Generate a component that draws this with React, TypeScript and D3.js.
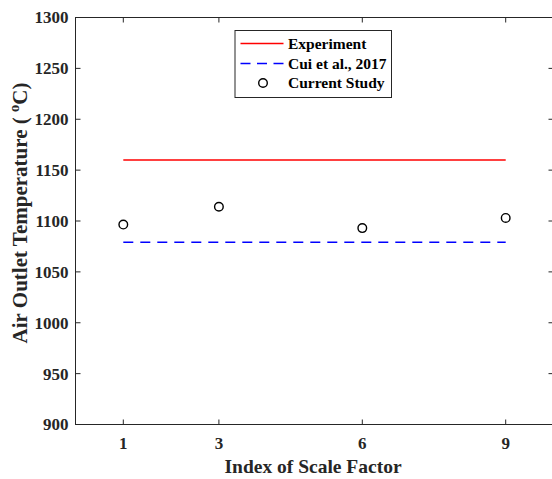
import React from "react";
import * as d3 from "d3";

const xTicks = [1, 3, 6, 9];
const yTicks = [900, 950, 1000, 1050, 1100, 1150, 1200, 1250, 1300];
const experimentX = [1, 9];
const experimentY = [1160, 1160];
const cuiX = [1, 9];
const cuiY = [1079, 1079];
const studyX = [1, 3, 6, 9];
const studyY = [1096.5, 1114, 1093, 1103];
const legendLabels = ["Experiment", "Cui et al., 2017", "Current Study"];

const W = 552;
const H = 479;
const left = 75.5;
const right = 553.5;
const top = 17.5;
const bottom = 424.5;

export default function App() {
  const x = d3.scaleLinear().domain([0, 10]).range([left, right]);
  const y = d3.scaleLinear().domain([900, 1300]).range([bottom, top]);
  const line = d3
    .line<[number, number]>()
    .x((d) => x(d[0]))
    .y((d) => y(d[1]));
  const expPts = experimentX.map((v, i) => [v, experimentY[i]] as [number, number]);
  const cuiPts = cuiX.map((v, i) => [v, cuiY[i]] as [number, number]);
  const axisColor = "#262626";
  const font = "'Liberation Serif', 'Times New Roman', serif";
  const tl = 5;

  return (
    <svg
      width={W}
      height={H}
      style={{ position: "absolute", left: 0, top: 0, background: "#fff" }}
      fontFamily={font}
    >
      <rect x={0} y={0} width={W} height={H} fill="#fff" />
      {/* data */}
      <path d={line(expPts) || ""} stroke="#ff0000" strokeWidth={1.5} fill="none" />
      <path
        d={line(cuiPts) || ""}
        stroke="#0000ff"
        strokeWidth={1.5}
        strokeDasharray="10,7"
        fill="none"
      />
      {studyX.map((v, i) => (
        <circle
          key={i}
          cx={x(v)}
          cy={y(studyY[i])}
          r={4.3}
          fill="none"
          stroke="#000"
          strokeWidth={1.4}
        />
      ))}
      {/* box */}
      <rect
        x={left}
        y={top}
        width={right - left}
        height={bottom - top}
        fill="none"
        stroke={axisColor}
        strokeWidth={1}
      />
      {/* x ticks */}
      {xTicks.map((t) => (
        <g key={"x" + t}>
          <line x1={x(t)} x2={x(t)} y1={bottom} y2={bottom - tl} stroke={axisColor} />
          <line x1={x(t)} x2={x(t)} y1={top} y2={top + tl} stroke={axisColor} />
          <text
            x={x(t)}
            y={448.5}
            textAnchor="middle"
            fontSize={17}
            fontWeight="bold"
            fill={axisColor}
          >
            {t}
          </text>
        </g>
      ))}
      {/* y ticks */}
      {yTicks.map((t) => (
        <g key={"y" + t}>
          <line x1={left} x2={left + tl} y1={y(t)} y2={y(t)} stroke={axisColor} />
          <line x1={right} x2={right - tl} y1={y(t)} y2={y(t)} stroke={axisColor} />
          <text
            x={68.5}
            y={y(t)}
            dy="0.35em"
            textAnchor="end"
            fontSize={17}
            fontWeight="bold"
            fill={axisColor}
          >
            {t}
          </text>
        </g>
      ))}
      {/* axis labels */}
      <text
        x={313}
        y={473}
        textAnchor="middle"
        fontSize={19.5}
        fontWeight="bold"
        fill={axisColor}
      >
        Index of Scale Factor
      </text>
      <text
        transform={`translate(27,${213}) rotate(-90)`}
        textAnchor="middle"
        fontSize={21}
        fontWeight="bold"
        fill={axisColor}
      >
        {"Air Outlet Temperature ( "}
        <tspan fontSize={14.5} dy={-8}>o</tspan>
        <tspan dy={8}>C)</tspan>
      </text>
      {/* legend */}
      <rect x={235} y={30.5} width={156.5} height={67} fill="#fff" stroke={axisColor} strokeWidth={1} />
      <line x1={240.5} x2={283.5} y1={43.5} y2={43.5} stroke="#ff0000" strokeWidth={1.5} />
      <line
        x1={240.5}
        x2={283.5}
        y1={63.5}
        y2={63.5}
        stroke="#0000ff"
        strokeWidth={1.5}
        strokeDasharray="10,6.5"
      />
      <circle cx={263} cy={83} r={4.3} fill="none" stroke="#000" strokeWidth={1.4} />
      {legendLabels.map((s, i) => (
        <text
          key={s}
          x={288}
          y={43.5 + i * 19.7}
          dy="0.35em"
          fontSize={15.5}
          fontWeight="bold"
          fill="#000"
        >
          {s}
        </text>
      ))}
    </svg>
  );
}
